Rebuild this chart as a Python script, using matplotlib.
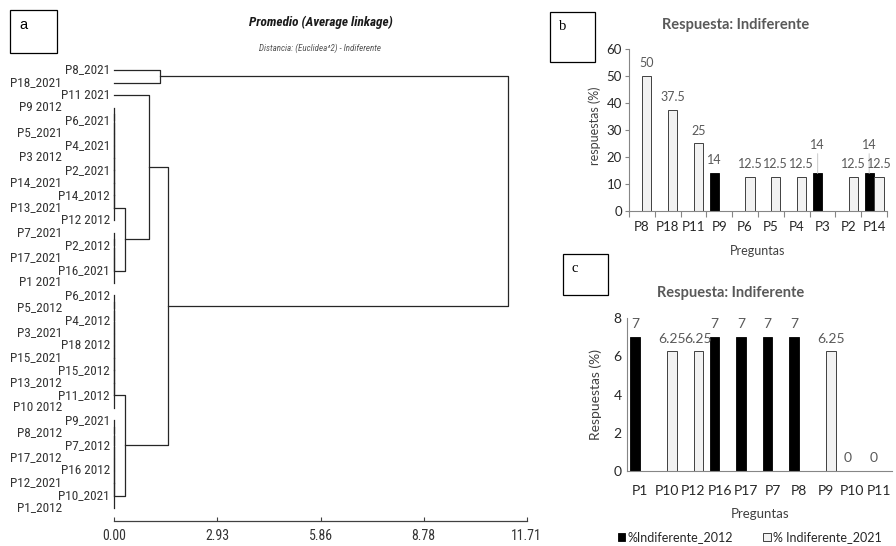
import matplotlib
matplotlib.use('Agg')
import matplotlib.pyplot as plt
from matplotlib.patches import Rectangle
from matplotlib import font_manager
from matplotlib.font_manager import FontProperties
import numpy as np

W, H = 896, 546

# ---- panel a: dendrogram (leaves top to bottom) ----
leaf_labels = ['P8_2021', 'P18_2021', 'P11 2021', 'P9 2012', 'P6_2021', 'P5_2021',
               'P4_2021', 'P3 2012', 'P2_2021', 'P14_2021', 'P14_2012', 'P13_2021',
               'P12 2012', 'P7_2021', 'P2_2012', 'P17_2021', 'P16_2021', 'P1 2021',
               'P6_2012', 'P5_2012', 'P4_2012', 'P3_2021', 'P18 2012', 'P15_2021',
               'P15_2012', 'P13_2012', 'P11_2012', 'P10 2012', 'P9_2021', 'P8_2012',
               'P7_2012', 'P17_2012', 'P16 2012', 'P12_2021', 'P10_2021', 'P1_2012']
# runs of leaves joined one by one at distance 0 (first, last)
flat_groups = [(3, 12), (13, 17), (18, 27), (28, 35)]
# (left, right, distance): 'gN' = flat group N, 'mN' = merge N of this list
merges = [('g0', 'g1', 0.31), ('g2', 'g3', 0.31), (2, 'm0', 0.99),
          ('m2', 'm1', 1.53), (0, 1, 1.31), ('m4', 'm3', 11.19)]
dist_max = 11.71
dist_ticklabels = ['0.00', '2.93', '5.86', '8.78', '11.71']

# ---- panel b ----
b_questions = ['P8', 'P18', 'P11', 'P9', 'P6', 'P5', 'P4', 'P3', 'P2', 'P14']
b_2012 = [np.nan, np.nan, np.nan, 14, np.nan, np.nan, np.nan, 14, np.nan, 14]
b_2021 = [50, 37.5, 25, np.nan, 12.5, 12.5, 12.5, np.nan, 12.5, 12.5]

# ---- panel c ----
c_questions = ['P1', 'P10', 'P12', 'P16', 'P17', 'P7', 'P8', 'P9', 'P10', 'P11']
c_2012 = [7, np.nan, np.nan, 7, 7, 7, 7, np.nan, 0, 0]
c_2021 = [np.nan, 6.25, 6.25, np.nan, np.nan, np.nan, np.nan, 6.25, np.nan, np.nan]


# look for a narrow sans font (Arial Narrow look-alike)
def find_narrow(style, weight):
    good = []
    for f in font_manager.fontManager.ttflist:
        narrow = ('Narrow' in f.name or 'Condensed' in f.name or
                  f.stretch in ('condensed', 'semi-condensed', 'extra-condensed', 425, 375)
                  or 'Condensed' in f.fname or 'Narrow' in f.fname)
        if not narrow or f.style != style:
            continue
        w = f.weight if isinstance(f.weight, int) else (700 if 'bold' in str(f.weight) else 400)
        if (w >= 600) != (weight == 'bold'):
            continue
        rank = 0 if 'Liberation' in f.name else 1 if 'Arial' in f.name else \
            2 if 'Roboto' in f.name else 3 if 'DejaVu' in f.name else 4
        good.append((rank, f.fname))
    return FontProperties(fname=sorted(good)[0][1]) if good else None


narrow_reg = find_narrow('normal', 'normal')
narrow_bi = find_narrow('italic', 'bold') or find_narrow('oblique', 'bold')
narrow_it = find_narrow('italic', 'normal') or find_narrow('oblique', 'normal')


def nfont(size, kind='reg'):
    fp = {'reg': narrow_reg, 'bi': narrow_bi, 'it': narrow_it}[kind]
    if fp is None:
        fp = FontProperties(family='Liberation Sans',
                            style='normal' if kind == 'reg' else 'italic',
                            weight='bold' if kind == 'bi' else 'normal')
        size = size * 0.85
    fp = fp.copy()
    fp.set_size(size)
    return fp


XL = 'Lato'


def px(x, y):
    return x / W, 1 - y / H


fig = plt.figure(figsize=(W / 100, H / 100), dpi=100)

# ================= dendrogram =================
line_c = '#262626'
ax = fig.add_axes([114.3 / W, 1 - 521 / H, 412.4 / W, 461 / H])
step = 12.51
ax.set_xlim(0, dist_max)
ax.set_ylim(35 + 13 / step, -10 / step)


def join(a, b, h):
    (xa, ya), (xb, yb) = a, b
    ax.plot([xa, h, h, xb], [ya, ya, yb, yb], color=line_c, lw=0.9, clip_on=False)
    return h, (ya + yb) / 2


nodes = {}
for g, (first, last) in enumerate(flat_groups):
    node = (0.0, first)
    for leaf in range(first + 1, last + 1):
        node = join(node, (0.0, leaf), 0.0)
    nodes['g%d' % g] = node


def get(k):
    return nodes[k] if isinstance(k, str) else (0.0, k)


for i, (a, b, h) in enumerate(merges):
    nodes['m%d' % i] = join(get(a), get(b), h)

for i, lab in enumerate(leaf_labels):
    off = -3.1 if i % 2 == 0 else -37.7
    ax.annotate(lab, xy=(0, i), xytext=(off, 0), textcoords='offset points',
                ha='right', va='center', fontproperties=nfont(9.5), color='#333333')

for s in ['top', 'right', 'left']:
    ax.spines[s].set_visible(False)
ax.spines['bottom'].set_color('#404040')
ax.spines['bottom'].set_linewidth(0.9)
ax.set_yticks([])
ax.set_xticks(np.linspace(0, dist_max, len(dist_ticklabels)))
ax.set_xticklabels(dist_ticklabels, fontproperties=nfont(10), color='#333333')
ax.tick_params(axis='x', direction='in', length=3, width=0.8, color='#404040', pad=6)

fig.text(*px(321, 22), 'Promedio (Average linkage)', ha='center', va='center',
         fontproperties=nfont(9.5, 'bi'), color='#1a1a1a')
fig.text(*px(320, 48), 'Distancia: (Euclidea^2) - Indiferente', ha='center', va='center',
         fontproperties=nfont(6.5, 'it'), color='#555555')


# ================= bar panels =================
def bar_panel(rect, cats, v12, v21, ymax, ystep, ticks_out, pad_x, fs_tick, fs_lab,
              lifted=()):
    axb = fig.add_axes(rect)
    x = np.arange(len(cats))
    bw = 0.36
    c12 = axb.bar(x - 0.19, v12, bw, color='black', edgecolor='black', lw=0.6,
                  label='%Indiferente_2012')
    c21 = axb.bar(x + 0.19, v21, bw, color='#f2f2f2', edgecolor='#404040', lw=0.7,
                  label='% Indiferente_2021')
    for xs, vals in ((x - 0.19, v12), (x + 0.19, v21)):
        for i, (xi, v) in enumerate(zip(xs, vals)):
            if np.isnan(v):
                continue
            kw = dict(ha='center', va='bottom', fontsize=fs_lab, family=XL, color='#595959',
                      textcoords='offset points')
            if vals is v12 and i in lifted:
                axb.annotate('%g' % v, xy=(xi, v), xytext=(0, 16),
                             arrowprops=dict(arrowstyle='-', color='#d0d0d0', lw=0.8,
                                             shrinkA=0, shrinkB=0), **kw)
            else:
                axb.annotate('%g' % v, xy=(xi, v), xytext=(0, 5), **kw)
    axb.set_xlim(-0.5, len(cats) - 0.5)
    axb.set_ylim(0, ymax)
    axb.set_yticks(np.arange(0, ymax + 0.1, ystep))
    axb.set_xticks(x)
    axb.set_xticklabels(cats)
    for s in ['top', 'right']:
        axb.spines[s].set_visible(False)
    for s in ['left', 'bottom']:
        axb.spines[s].set_color('#868686')
        axb.spines[s].set_linewidth(0.8)
    for lab in axb.get_xticklabels() + axb.get_yticklabels():
        lab.set_family(XL)
        lab.set_fontsize(fs_tick)
        lab.set_color('#262626')
    axb.tick_params(axis='x', length=0, pad=pad_x)
    if ticks_out:
        axb.set_xticks(np.arange(-0.5, len(cats)), minor=True)
        axb.tick_params(axis='x', which='minor', length=4, width=0.8, color='#868686')
        axb.tick_params(axis='y', length=3, width=0.8, color='#868686', pad=2)
    else:
        axb.tick_params(axis='y', length=0, pad=4)
    return axb, c12, c21


axb, _, _ = bar_panel([629 / W, 1 - 211 / H, 258 / W, 162 / H], b_questions, b_2012, b_2021,
                      60, 10, True, 7, 9.5, 9, lifted=(7, 9))
axc, h12, h21 = bar_panel([627 / W, 1 - 471 / H, 265 / W, 153 / H], c_questions, c_2012, c_2021,
                          8, 2, False, 10, 10, 10)

title_kw = dict(ha='center', va='center', family=XL, weight='bold', fontsize=10.5, color='#595959')
fig.text(*px(736, 25), 'Respuesta: Indiferente', **title_kw)
fig.text(*px(731, 293), 'Respuesta: Indiferente', **title_kw)
lab_kw = dict(ha='center', va='center', family=XL, color='#404040')
fig.text(*px(758, 251), 'Preguntas', fontsize=9, **lab_kw)
fig.text(*px(760, 514), 'Preguntas', fontsize=9.5, **lab_kw)
fig.text(*px(595, 126), 'respuestas (%)', rotation=90, fontsize=9, **lab_kw)
fig.text(*px(596, 395), 'Respuestas (%)', rotation=90, fontsize=10, **lab_kw)

fig.legend(handles=[h12, h21], loc='center', bbox_to_anchor=px(750, 537), ncol=2,
           frameon=False, prop={'family': XL, 'size': 9}, handlelength=0.6,
           handleheight=0.6, handletextpad=0.2, columnspacing=2.4, labelcolor='#262626')

# ---- panel tags ----
for (x0, y0, x1, y1), tag, fam in (((10, 10, 57, 53), 'a', 'Liberation Sans'),
                                   ((550, 12, 595, 62), 'b', 'Liberation Serif'),
                                   ((563, 254, 608, 295), 'c', 'Liberation Serif')):
    fig.add_artist(Rectangle(px(x0, y1), (x1 - x0) / W, (y1 - y0) / H, transform=fig.transFigure,
                             fill=False, ec='black', lw=0.9))
    fig.text(*px(x0 + 9, y0 + 15), tag, ha='left', va='center', family=fam, fontsize=10.5,
             color='black')

fig.savefig('out.png', dpi=100)
